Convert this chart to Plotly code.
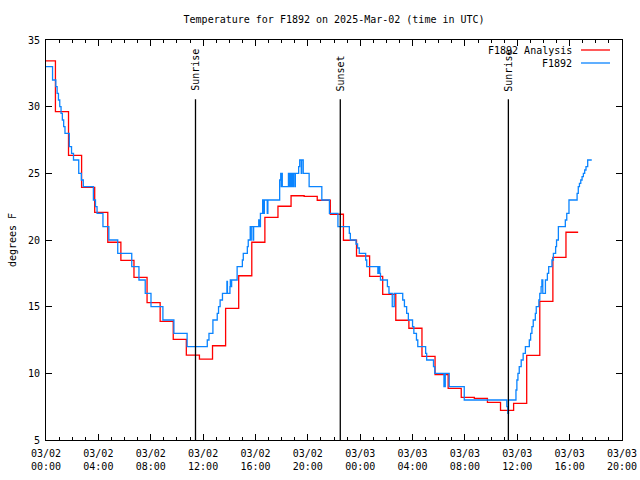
import pandas as pd
import plotly.graph_objects as go

# ---------------- data ----------------
start = pd.Timestamp("2025-03-02 00:00")
x_end = pd.Timestamp("2025-03-03 20:00")

# Analysis (hourly steps, first value at 00:00, then each hour at :43)
analysis_first_offset_h = 0.72
analysis_end_h = 40.65
analysis_vals = [33.43, 29.63, 26.35, 23.95, 22.07, 19.83, 18.47, 17.2, 15.3, 13.9,
                 12.55, 11.37, 11.07, 12.07, 14.87, 17.32, 19.83, 21.7, 22.53, 23.32,
                 23.27, 22.98, 21.93, 19.98, 18.8, 17.27, 15.92, 13.98, 13.38, 11.27,
                 9.9, 8.87, 8.2, 8.12, 7.82, 7.22, 7.75, 11.35, 15.4, 18.7, 20.58]

# Observations (hours after start, value)
obs_hours = [0.0, 0.5, 0.75, 0.85, 0.95, 1.05, 1.15, 1.25, 1.35, 1.45,
             1.78, 1.95, 2.1, 2.5, 2.7, 2.85, 3.62, 3.78, 3.9, 4.35,
             4.8, 5.48, 6.55, 7.1, 7.58, 8.02, 8.93, 9.77, 10.78, 12.32,
             12.45, 12.75, 13.08, 13.18, 13.3, 13.48, 13.82, 13.86, 14.05, 14.08,
             14.15, 14.18, 14.6, 15.0, 15.07, 15.38, 15.45, 15.6, 15.65, 15.68,
             15.82, 15.86, 16.25, 16.35, 16.38, 16.55, 16.6, 16.68, 16.9, 16.95,
             17.85, 17.93, 17.97, 18.0, 18.05, 18.52, 18.62, 18.65, 18.75, 18.78,
             18.88, 18.91, 19.02, 19.05, 19.3, 19.38, 19.5, 19.53, 19.65, 20.1,
             21.07, 21.65, 22.3, 23.17, 23.25, 23.68, 23.8, 23.93, 24.42, 24.5,
             25.35, 25.45, 25.5, 25.55, 26.08, 26.2, 26.45, 26.6, 27.25, 27.38,
             27.55, 27.68, 28.0, 28.1, 28.3, 28.4, 29.0, 29.08, 29.6, 29.7,
             30.4, 30.5, 30.8, 31.95, 35.2, 35.28, 35.33, 35.9, 35.97, 36.05,
             36.15, 36.3, 36.45, 36.62, 36.92, 37.02, 37.12, 37.22, 37.38, 37.45,
             37.65, 37.72, 37.82, 37.88, 37.95, 38.15, 38.3, 38.4, 38.65, 38.76,
             38.93, 39.0, 39.14, 39.67, 39.78, 39.95, 40.57, 40.66, 40.75, 40.85,
             40.95, 41.05, 41.15, 41.25, 41.38, 41.69]
obs_vals = [33.0, 32.0, 31.5, 31.0, 30.5, 30.0, 29.5, 29.0, 28.5, 28.0,
            27.0, 26.5, 26.0, 25.0, 24.5, 24.0, 23.0, 22.5, 22.0, 21.0,
            20.0, 19.0, 18.0, 17.0, 16.0, 15.0, 14.0, 13.0, 12.0, 12.5,
            13.0, 14.0, 14.5, 15.0, 15.5, 16.0, 16.9, 16.0, 16.5, 17.0,
            16.5, 17.0, 18.0, 18.5, 19.0, 19.5, 20.0, 21.0, 20.0, 21.0,
            20.0, 21.0, 21.5, 21.0, 22.0, 23.0, 22.0, 23.0, 22.0, 23.0,
            24.5, 25.0, 24.0, 25.0, 24.0, 25.0, 24.0, 25.0, 24.0, 25.0,
            24.0, 25.0, 24.0, 25.0, 25.5, 26.0, 25.0, 26.0, 25.0, 24.0,
            23.0, 22.0, 21.0, 20.5, 20.0, 19.7, 19.4, 19.0, 18.5, 18.0,
            17.5, 18.0, 17.5, 17.0, 16.5, 16.0, 15.0, 16.0, 15.5, 15.0,
            14.5, 14.0, 13.5, 13.0, 12.5, 12.0, 11.5, 11.0, 10.5, 10.0,
            9.0, 10.0, 9.0, 8.0, 7.5, 7.0, 8.0, 8.75, 9.5, 10.0,
            10.5, 11.0, 11.5, 12.0, 12.5, 13.0, 13.5, 14.0, 14.5, 15.0,
            15.5, 16.0, 16.5, 17.0, 16.0, 17.0, 17.5, 18.0, 18.5, 19.0,
            19.5, 20.0, 21.0, 21.5, 22.0, 23.0, 23.5, 24.0, 24.25, 24.5,
            24.75, 25.0, 25.25, 25.5, 26.0, 26.0]

event_labels = ["Sunrise", "Sunset", "Sunrise"]
event_hours = [11.42, 22.48, 35.32]

title_text = "Temperature for F1892 on 2025-Mar-02 (time in UTC)"
ylabel = "degrees F"
series_names = ["F1892 Analysis", "F1892"]
series_colors = ["#ff0000", "#0a84ff"]

# ---------------- build ----------------
def t(h):
    return start + pd.to_timedelta(h, unit="h")

an_hours = [0.0] + [k + analysis_first_offset_h for k in range(len(analysis_vals) - 1)] + [analysis_end_h]
an_vals = analysis_vals + [analysis_vals[-1]]

FONT = "DejaVu Sans Mono"

fig = go.Figure()
fig.add_trace(go.Scatter(x=[t(h) for h in an_hours], y=an_vals, mode="lines",
                         line=dict(color=series_colors[0], width=1.3, shape="hv"),
                         name=series_names[0], showlegend=False))
fig.add_trace(go.Scatter(x=[t(h) for h in obs_hours], y=obs_vals, mode="lines",
                         line=dict(color=series_colors[1], width=1.3, shape="hv"),
                         name=series_names[1], showlegend=False))

for lab, h in zip(event_labels, event_hours):
    fig.add_shape(type="line", xref="x", yref="y", x0=t(h), x1=t(h), y0=5, y1=30.55,
                  line=dict(color="black", width=1.3))
    fig.add_annotation(x=t(h), y=31.0, xref="x", yref="y", text=lab, showarrow=False,
                       textangle=-90, xanchor="center", yanchor="bottom",
                       font=dict(family=FONT, size=10, color="black"))

# manual legend (gnuplot style: text right, sample on right)
leg_y = [0.975, 0.9425]
for name, col, yy in zip(series_names, series_colors, leg_y):
    fig.add_annotation(x=0.9167, y=yy, xref="paper", yref="paper", text=name,
                       showarrow=False, xanchor="right", yanchor="middle",
                       font=dict(family=FONT, size=10, color="black"))
    fig.add_shape(type="line", xref="paper", yref="paper", x0=0.9288, x1=0.9792,
                  y0=yy, y1=yy, line=dict(color=col, width=1.3))

fig.update_layout(
    width=640, height=480,
    margin=dict(l=46, r=18, t=40, b=40, autoexpand=False),
    paper_bgcolor="white", plot_bgcolor="white",
    title=dict(text=title_text, x=0.522, xanchor="center", y=0.96, yanchor="middle",
               font=dict(family=FONT, size=10, color="black")),
    showlegend=False,
    font=dict(family=FONT, size=10, color="black"),
)
fig.update_xaxes(type="date", range=[start, x_end], showgrid=False, zeroline=False,
                 automargin=False, ticklabelstandoff=4,
                 showline=True, linecolor="black", linewidth=1, mirror="allticks",
                 ticks="inside", ticklen=6, tickcolor="black", tick0=start, dtick=4 * 3600000,
                 tickformat="%m/%d<br>%H:%M", tickfont=dict(family=FONT, size=10),
                 minor=dict(dtick=3600000, ticks="inside", ticklen=3, tickcolor="black", showgrid=False))
fig.update_yaxes(range=[5, 35], showgrid=False, zeroline=False, showline=True,
                 automargin=False, ticklabelstandoff=3,
                 linecolor="black", linewidth=1, mirror="allticks", ticks="inside",
                 ticklen=6, tickcolor="black", dtick=5, tickfont=dict(family=FONT, size=10),
                 title=dict(text=ylabel, font=dict(family=FONT, size=10), standoff=9))

fig.write_html("out.html", config={"displayModeBar": False},
               post_script="document.body.style.margin='0px';")
